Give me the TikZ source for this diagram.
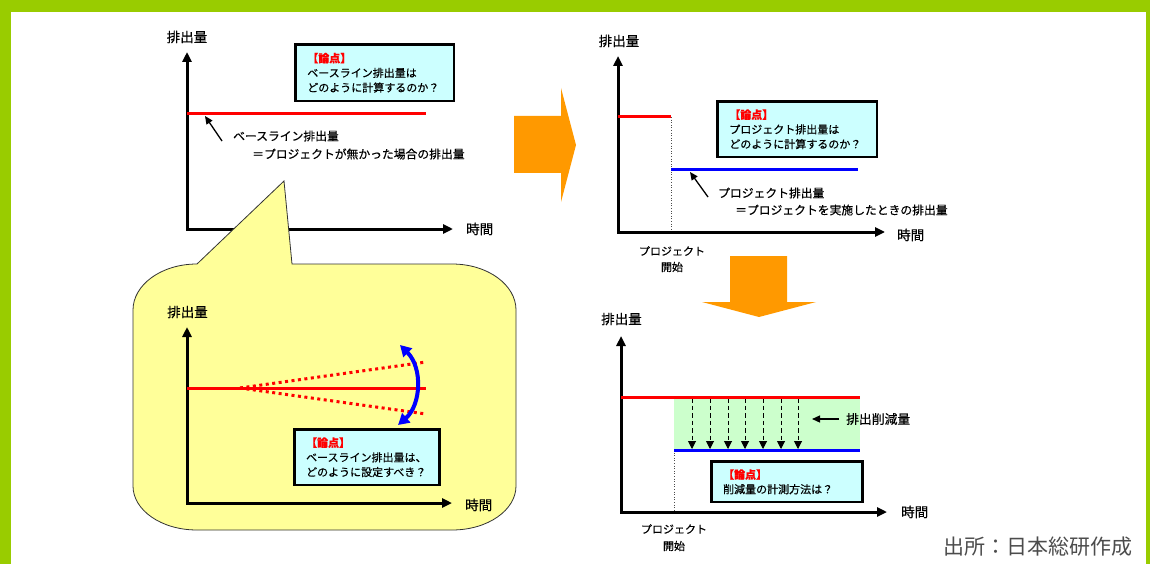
\documentclass[tikz,border=0pt]{standalone}
\usepackage{fontspec}
\setmainfont{Noto Sans CJK JP}
\newfontfamily\jpmed{Noto Sans CJK JP}[FakeBold=0.4]
\usetikzlibrary{arrows.meta}
\definecolor{framegreen}{HTML}{99CC00}
\definecolor{boxcyan}{HTML}{CCFFFF}
\definecolor{bubbleyellow}{HTML}{FFFF99}
\definecolor{orng}{HTML}{FF9900}
\definecolor{redl}{HTML}{FF0000}
\definecolor{bluel}{HTML}{0000FF}
\definecolor{greenfill}{HTML}{CCFFCC}
\newcommand{\ronten}{{\color{redl}\bfseries 【論点】}}
\tikzset{
  axisline/.style={line width=3pt, line join=miter, {Triangle[length=10pt,width=9pt]}-{Triangle[length=10pt,width=9pt]}},
  axlbl/.style={inner sep=0pt, font=\jpmed\fontsize{13.5}{16}\selectfont},
  lbl/.style={inner sep=0pt, anchor=west, font=\jpmed\fontsize{11.8}{14}\selectfont},
  smalllbl/.style={inner sep=0pt, font=\jpmed\fontsize{11}{13}\selectfont},
  ptbox/.style={draw=black, line width=2.6pt, fill=boxcyan, anchor=north west, align=left, inner xsep=11.5pt, inner ysep=0pt, font=\jpmed\fontsize{11}{14.7}\selectfont},
  redline/.style={draw=redl, line width=3pt},
  blueline/.style={draw=bluel, line width=3pt},
  reddot/.style={draw=redl, line width=3pt, dash pattern=on 3pt off 3.5pt},
  pointer/.style={draw=black, line width=1.3pt, -{Triangle[length=8pt,width=7pt]}},
  dasharrow/.style={draw=black, line width=1pt, dash pattern=on 4.5pt off 3pt, -{Triangle[length=8pt,width=8pt]}},
  startline/.style={draw=black!70, line width=0.6pt, dotted},
  bluearc/.style={draw=bluel, line width=4pt, {Triangle[length=11pt,width=12pt]}-{Triangle[length=11pt,width=12pt]}},
  bubblestyle/.style={draw=black!80, line width=0.8pt, fill=bubbleyellow},
  bigarrow/.style={fill=orng, draw=none}
}
\begin{document}
\begin{tikzpicture}[x=1pt,y=-1pt]
\useasboundingbox (0,0) rectangle (1150,564);
\fill[white] (0,0) rectangle (1150,564);
% frame
\fill[framegreen] (0,0) rectangle (1150,12);
\fill[framegreen] (0,0) rectangle (11,564);
\fill[framegreen] (1146,0) rectangle (1150,564);

% ---------- Chart A (top left) ----------
\coordinate (Ao) at (187,229);
\coordinate (Ay) at (187,52);
\coordinate (Ax) at (453,229);
\draw[axisline] (Ay) -- (Ao) -- (Ax);
\node[axlbl] (Aylab) at (187,37) {排出量};
\node[axlbl, anchor=west] (Axlab) at (466,229) {時間};
\coordinate (Ar1) at (187,114);
\coordinate (Ar2) at (426,114);
\draw[redline] (Ar1) -- (Ar2);
\node[ptbox, minimum width=158.4pt, minimum height=56.4pt, text width=135pt] (Abox) at (294.3,43.3) {\ronten\\ベースライン排出量は\\どのように計算するのか？};
\node[lbl] (Alab1) at (233,136) {ベースライン排出量};
\node[lbl] (Alab2) at (252,154) {＝プロジェクトが無かった場合の排出量};
\coordinate (Aa1) at (222,141);
\coordinate (Aa2) at (205,116);
\draw[pointer] (Aa1) -- (Aa2);

% ---------- speech bubble ----------
\draw[bubblestyle] (197,264) -- (284,181) -- (292,264) -- (452,264)
  .. controls (488,264) and (516,285) .. (516,310) -- (516,486)
  .. controls (516,510) and (488,530) .. (452,530) -- (197,530)
  .. controls (161,530) and (133,510) .. (133,486) -- (133,310)
  .. controls (133,285) and (161,264) .. (197,264) -- cycle;

% ---------- Chart B (inside bubble) ----------
\coordinate (Bo) at (187,503);
\coordinate (By) at (187,327);
\coordinate (Bx) at (452,503);
\draw[axisline] (By) -- (Bo) -- (Bx);
\node[axlbl] (Bylab) at (187.5,312) {排出量};
\node[axlbl, anchor=west] (Bxlab) at (465,505) {時間};
\coordinate (Br1) at (187,388);
\coordinate (Br2) at (426,388);
\coordinate (Bd0) at (240,388);
\coordinate (Bdu) at (426,362);
\coordinate (Bdd) at (426,414);
\draw[reddot] (Bd0) -- (Bdu);
\draw[reddot] (Bd0) -- (Bdd);
\draw[redline] (Br1) -- (Br2);
\coordinate (Bb1) at (400,345);
\coordinate (Bb2) at (398,425);
\draw[bluearc] (Bb1) .. controls (423,368) and (421,405) .. (Bb2);
\node[ptbox, minimum width=144.4pt, minimum height=55.4pt, text width=122pt] (Bbox) at (293.3,428.3) {\ronten\\ベースライン排出量は、\\どのように設定すべき？};

% ---------- orange arrows ----------
\fill[bigarrow] (514,116) -- (561,116) -- (561,88) -- (576,145) -- (561,202) -- (561,173) -- (514,173) -- cycle;
\fill[bigarrow] (730,256) -- (787,256) -- (787,302) -- (816,302) -- (759,317) -- (702,302) -- (730,302) -- cycle;

% ---------- Chart C (top right) ----------
\coordinate (Co) at (618,232);
\coordinate (Cy) at (618,56);
\coordinate (Cx) at (885,232);
\coordinate (Cs1) at (671,117);
\coordinate (Cs2) at (671,232);
\draw[startline] (Cs1) -- (Cs2);
\draw[axisline] (Cy) -- (Co) -- (Cx);
\node[axlbl] (Cylab) at (619,41) {排出量};
\node[axlbl, anchor=west] (Cxlab) at (897,235) {時間};
\coordinate (Cr1) at (618,117);
\draw[redline] (Cr1) -- (Cs1);
\coordinate (Cb1) at (671,170);
\coordinate (Cb2) at (858,170);
\draw[blueline] (Cb1) -- (Cb2);
\node[ptbox, minimum width=159.4pt, minimum height=55.4pt, text width=136pt] (Cbox) at (716.3,100.3) {\ronten\\プロジェクト排出量は\\どのように計算するのか？};
\coordinate (Ca1) at (708,197);
\coordinate (Ca2) at (690,172);
\draw[pointer] (Ca1) -- (Ca2);
\node[lbl] (Clab1) at (718,193) {プロジェクト排出量};
\node[lbl] (Clab2) at (735,210) {＝プロジェクトを実施したときの排出量};
\node[smalllbl] (Cst1) at (672,251) {プロジェクト};
\node[smalllbl] (Cst2) at (672,267) {開始};

% ---------- Chart D (bottom right) ----------
\coordinate (Do) at (621,512);
\coordinate (Dy) at (621,336);
\coordinate (Dx) at (887,512);
\fill[greenfill] (674,397) rectangle (860,450);
\coordinate (Ds1) at (674,450);
\coordinate (Ds2) at (674,512);
\draw[startline] (Ds1) -- (Ds2);
\draw[axisline] (Dy) -- (Do) -- (Dx);
\node[axlbl] (Dylab) at (621.5,319) {排出量};
\node[axlbl, anchor=west] (Dxlab) at (901,512) {時間};
\foreach \i/\xx in {1/692,2/710,3/728,4/745,5/763,6/781,7/798} {
  \coordinate (Dt\i) at (\xx,398);
  \coordinate (Db\i) at (\xx,449);
  \draw[dasharrow] (Dt\i) -- (Db\i);
}
\coordinate (Dr1) at (621,397);
\coordinate (Dr2) at (860,397);
\draw[redline] (Dr1) -- (Dr2);
\coordinate (Db2e) at (860,450);
\draw[blueline] (Ds1) -- (Db2e);
\coordinate (Dg1) at (839,419);
\coordinate (Dg2) at (812,419);
\draw[pointer] (Dg1) -- (Dg2);
\node[lbl, font=\jpmed\fontsize{12.8}{14}\selectfont] (Dglab) at (846,419) {排出削減量};
\node[ptbox, minimum width=150.4pt, minimum height=40.4pt, text width=128pt] (Dbox) at (710.3,460.3) {\ronten\\削減量の計測方法は？};
\node[smalllbl] (Dst1) at (674,529) {プロジェクト};
\node[smalllbl] (Dst2) at (674,546) {開始};

% ---------- source ----------
\node[inner sep=0pt, anchor=west, text=black!70, font=\fontsize{21}{24}\selectfont] (src) at (943,547) {出所：日本総研作成};
\end{tikzpicture}
\end{document}
